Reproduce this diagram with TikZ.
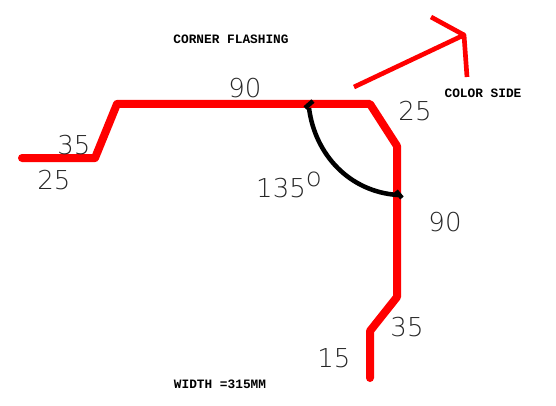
\documentclass[tikz,border=0pt]{standalone}
\usepackage{fontspec}
\newfontfamily\dimfont{DejaVu Sans ExtraLight}
\newfontfamily\notefont{Liberation Mono}[BoldFont={Liberation Mono Bold}]
\begin{document}
\begin{tikzpicture}[
            x=0.75pt, y=-0.75pt,
            flashing/.style={draw=red, line width=6pt, line join=round, line cap=round},
            colorarrow/.style={draw=red, line width=3.5pt, line join=round},
            anglearc/.style={draw=black, line width=3.4pt},
            dimlabel/.style={font=\dimfont\fontsize{19.5}{20}\selectfont, text=black!85, inner sep=0pt},
            notelabel/.style={font=\notefont\bfseries\fontsize{9.6}{10}\selectfont, inner sep=0pt}
        ]
        \useasboundingbox (0,0) rectangle (556,406);

        % Flashing profile
        \draw[flashing] (22,158) -- (95,158) -- (117,104) -- (370,104) -- (397,146)
            -- (397,297) -- (370,331) -- (370,378);

        % Colour side arrow
        \draw[colorarrow] (354,87) -- (464,35) -- (467,77);
        \draw[colorarrow] (431,17) -- (464,35);

        % Angle
        \draw[anglearc] (309,108) .. controls (315,155) and (350,192) .. (398,195);
        \draw[anglearc] (305,108) -- (313,101);
        \draw[anglearc] (396,191) -- (402,198);

        % Dimensions
        \node[dimlabel] (top90) at (245,88) {90};
        \node[dimlabel] (bend25) at (415,111) {25};
        \node[dimlabel] (left35) at (74,145) {35};
        \node[dimlabel] (left25) at (54,180) {25};
        \node[dimlabel] (angle) at (289,185) {135\raisebox{8pt}{o}};
        \node[dimlabel] (side90) at (445,222) {90};
        \node[dimlabel] (low35) at (407,327) {35};
        \node[dimlabel] (low15) at (334,358) {15};

        % Notes
        \node[notelabel] (title) at (231,39) {CORNER FLASHING};
        \node[notelabel] (colorside) at (483,93) {COLOR SIDE};
        \node[notelabel] (width) at (220,384) {WIDTH =315MM};

        \end{tikzpicture}
\end{document}
